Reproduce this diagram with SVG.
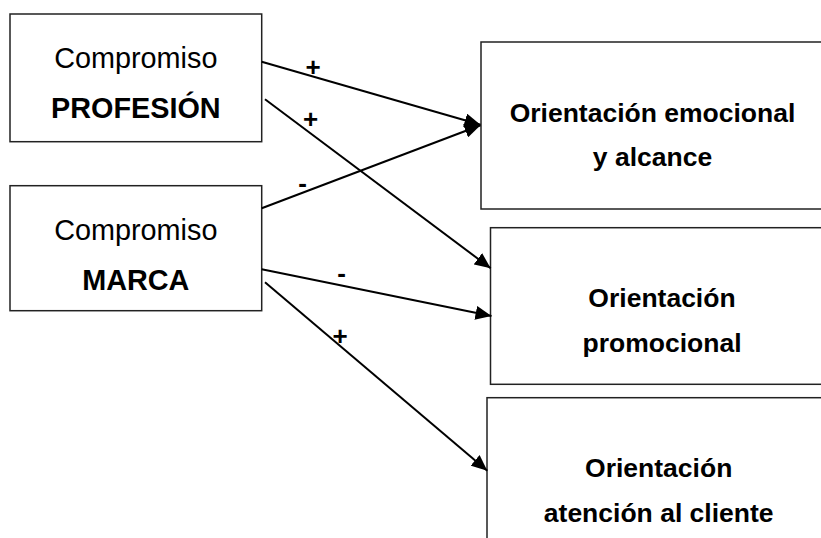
<svg xmlns="http://www.w3.org/2000/svg" width="821" height="538" viewBox="0 0 821 538">
<defs>
<style>
.box{fill:#fff;stroke:#222;stroke-width:1.5}
.t{font-family:"Liberation Sans",Arial,sans-serif;fill:#000;text-anchor:middle}
.l{font-size:28.8px}
.lb{font-size:28.8px;font-weight:bold}
.rb{font-size:26.5px;font-weight:bold}
.lab{font-family:"Liberation Sans",Arial,sans-serif;font-size:26px;font-weight:bold;fill:#000;text-anchor:middle}
.c{stroke:#000;stroke-width:2;fill:none;marker-end:url(#ah)}
</style>
<marker id="ah" viewBox="0 0 16 14" refX="16" refY="7" markerWidth="16" markerHeight="14" markerUnits="userSpaceOnUse" orient="auto">
<path d="M0,0 L16,7 L0,14 Z" fill="#000"/>
</marker>
</defs>
<rect width="821" height="538" fill="#fff"/>
<g id="profesion">
<rect class="box" x="10" y="14" width="251.7" height="127.7"/>
<text class="t l" x="135.8" y="68.3">Compromiso</text>
<text class="t lb" x="135.8" y="118.3">PROFESIÓN</text>
</g>
<g id="marca">
<rect class="box" x="10" y="185.7" width="251.7" height="125"/>
<text class="t l" x="135.8" y="240">Compromiso</text>
<text class="t lb" x="135.8" y="290">MARCA</text>
</g>
<g id="emocional">
<rect class="box" x="481" y="42" width="360" height="167"/>
<text class="t rb" x="652.5" y="121.7">Orientación emocional</text>
<text class="t rb" x="652.5" y="165.7">y alcance</text>
</g>
<g id="promocional">
<rect class="box" x="490.5" y="227.7" width="360" height="156.6"/>
<text class="t rb" x="662" y="306.7">Orientación</text>
<text class="t rb" x="662" y="351.7">promocional</text>
</g>
<g id="atencion">
<rect class="box" x="487" y="397.7" width="360" height="170"/>
<text class="t rb" x="658.7" y="476.7">Orientación</text>
<text class="t rb" x="658.7" y="521.7">atención al cliente</text>
</g>
<g id="connectors">
<line class="c" x1="261.7" y1="61.7" x2="480.5" y2="124.8"/>
<line class="c" x1="265" y1="99.3" x2="490.7" y2="268.3"/>
<line class="c" x1="261.7" y1="208.3" x2="480.5" y2="125.2"/>
<line class="c" x1="261.7" y1="269.3" x2="491.5" y2="316"/>
<line class="c" x1="265" y1="282.3" x2="487.3" y2="470.7"/>
<text class="lab" x="313" y="76">+</text>
<text class="lab" x="310.7" y="127.6">+</text>
<text class="lab" x="302.7" y="192">-</text>
<text class="lab" x="341.7" y="282">-</text>
<text class="lab" x="340" y="345.3">+</text>
</g>
</svg>
